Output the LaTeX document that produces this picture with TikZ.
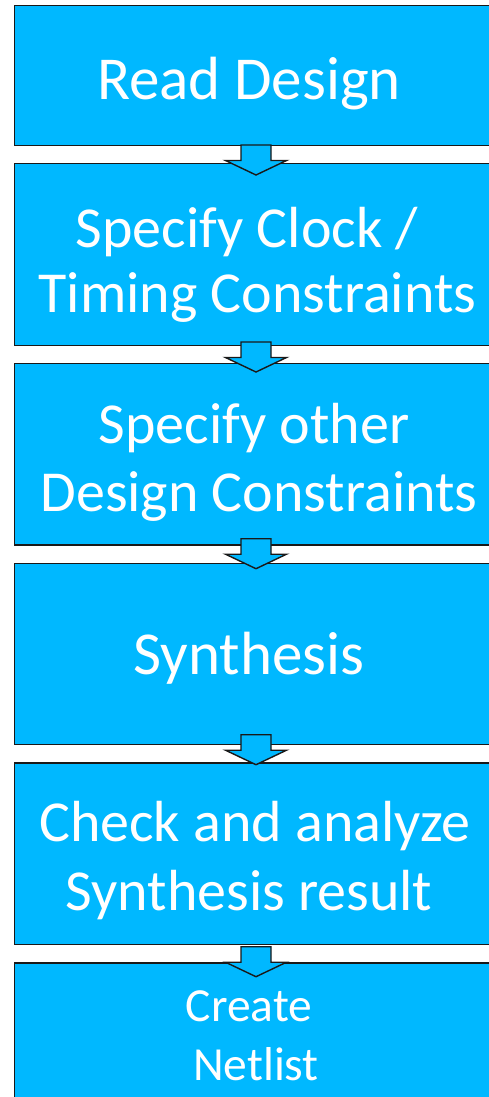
\documentclass[tikz,border=0pt]{standalone}
\usepackage{fontspec}
\setmainfont{Carlito}
\definecolor{boxcyan}{RGB}{0,184,255}
\tikzset{
  stepbox/.style={draw=black!90, line width=1.4pt, fill=boxcyan, rectangle, anchor=north west, inner sep=0pt, minimum width=484pt},
  big/.style={text=white, font=\fontsize{58}{65}\selectfont, anchor=base, inner sep=0pt},
  bigger/.style={text=white, font=\fontsize{61}{65}\selectfont, anchor=base, inner sep=0pt},
  small/.style={text=white, font=\fontsize{47.5}{58}\selectfont, anchor=base, inner sep=0pt},
  blkarrow/.style={draw=black!90, line width=1.4pt, fill=boxcyan, line join=miter}
}
\newcommand{\downblk}[1]{%
  \draw[blkarrow] (#1) ++(-15,0) -- ++(0,15.5) -- ++(-15.5,0) -- ++(30.5,14.5) -- ++(30.5,-14.5) -- ++(-15.5,0) -- ++(0,-15.5) -- cycle;}
\begin{document}
\begin{tikzpicture}[x=1pt,y=-1pt]
\useasboundingbox (0,0) rectangle (489,1097);
% boxes
\node[stepbox, minimum height=140pt] (b1) at (14,5) {};
\node[stepbox, minimum height=181.7pt] (b2) at (14,163) {};
\node[stepbox, minimum height=181.6pt] (b3) at (14,362.7) {};
\node[stepbox, minimum height=181.3pt] (b4) at (14,562.7) {};
\node[stepbox, minimum height=181.7pt] (b5) at (14,762.3) {};
\node[stepbox, minimum height=150pt] (b6) at (14,962.3) {};
% block arrows
\coordinate (a1) at (256,145);
\coordinate (a2) at (256,342);
\coordinate (a3) at (256,538.7);
\coordinate (a4) at (256,734.7);
\coordinate (a5) at (256,946.7);
\downblk{a1}
\downblk{a2}
\downblk{a3}
\downblk{a4}
\downblk{a5}
% texts
\node[bigger] (t1) at (249,100) {Read Design};
\node[big] (t2a) at (247,247.7) {Specify Clock /};
\node[big] (t2b) at (257.5,312.7) {Timing Constraints};
\node[big] (t3a) at (254,443.3) {Specify other};
\node[big] (t3b) at (259,511.7) {Design Constraints};
\node[bigger] (t4) at (249,674) {Synthesis};
\node[big] (t5a) at (255,841.7) {Check and analyze};
\node[big] (t5b) at (249,910) {Synthesis result};
\node[small] (t6a) at (249,1021.7) {Create};
\node[small] (t6b) at (256,1080) {Netlist};
\end{tikzpicture}
\end{document}
